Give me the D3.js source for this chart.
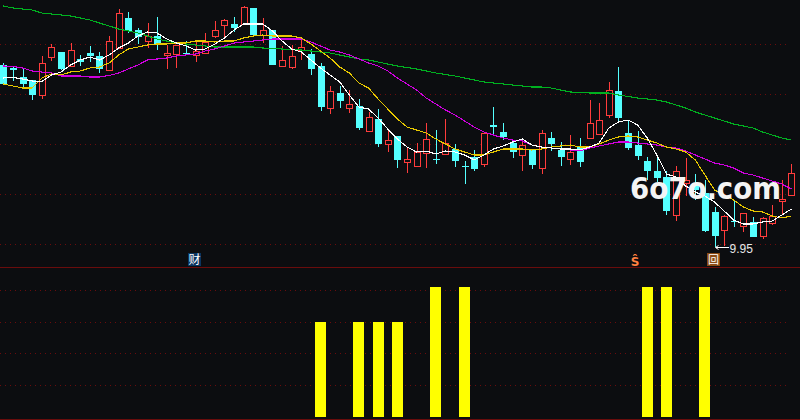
<!DOCTYPE html>
<html>
<head>
<meta charset="utf-8">
<script src="https://cdn.jsdelivr.net/npm/d3@7/dist/d3.min.js"></script>
<style>html,body{margin:0;padding:0;background:#0c0d10;overflow:hidden}svg{display:block}</style>
</head>
<body>
<script>
const open=[13.59,13.53,13.35,13.29,12.98,13.74,13.85,13.57,13.71,13.83,13.77,13.48,13.92,14.53,14.29,14.06,14.17,13.79,13.81,13.83,13.78,13.83,14.17,14.38,14.41,14.41,14.73,14.18,14.29,13.57,13.55,13.89,13.81,13.57,12.73,13.03,12.73,12.77,12.27,12.51,12.01,12.17,11.65,11.57,11.83,11.71,11.81,11.91,11.57,11.75,11.61,12.39,12.25,12.03,11.79,11.89,11.53,12.13,11.89,11.71,11.95,12.13,12.21,12.59,13.07,12.23,11.99,11.67,11.47,11.35,10.59,11.23,11.23,11.03,10.65,10.29,10.47,10.37,10.45,10.17,10.43,10.87,10.99];
const close=[13.21,13.49,13.21,12.99,13.62,13.94,13.51,13.89,13.65,13.77,13.51,14.07,14.62,14.27,14.15,14.17,14.01,13.83,13.99,13.81,13.86,14.05,14.29,14.49,14.33,14.75,14.19,14.28,13.59,13.69,13.77,13.95,13.51,12.75,13.07,12.87,12.81,12.33,12.55,12.01,12.09,11.69,11.71,11.85,12.11,11.69,12.03,11.67,11.55,11.51,12.23,12.35,12.15,11.85,11.99,11.59,12.23,12.01,11.75,11.85,11.65,12.43,12.49,13.09,12.53,11.93,11.77,11.47,11.33,10.67,11.47,11.29,11.09,10.27,10.17,10.57,10.45,10.63,10.15,10.53,10.57,10.91,11.43];
const high=[13.63,13.57,13.51,13.29,13.77,14.01,13.85,14.03,13.79,13.97,13.85,14.17,14.71,14.65,14.33,14.43,14.55,13.99,13.99,14.07,14.05,14.23,14.47,14.51,14.55,14.77,14.73,14.53,14.29,13.97,13.99,14.11,13.91,13.63,13.17,13.17,13.09,12.91,12.65,12.71,12.27,12.17,11.95,12.03,12.43,12.29,12.51,12.01,11.67,11.89,12.23,12.75,12.43,12.07,12.07,11.89,12.29,12.25,12.05,12.19,12.13,12.89,12.83,13.25,13.55,12.49,12.27,11.75,11.77,11.47,11.57,11.73,11.41,11.29,10.75,10.59,10.89,10.63,10.55,10.55,10.79,11.29,11.61];
const low=[13.21,13.27,13.13,12.89,12.91,13.67,13.49,13.57,13.57,13.65,13.43,13.48,13.92,14.23,14.01,13.93,13.89,13.51,13.53,13.79,13.65,13.83,14.13,14.13,14.25,14.41,14.19,14.03,13.59,13.55,13.51,13.69,13.39,12.67,12.61,12.73,12.63,12.29,12.27,11.95,11.85,11.53,11.43,11.57,11.53,11.61,11.81,11.55,11.21,11.47,11.55,12.19,12.09,11.73,11.47,11.51,11.41,11.87,11.57,11.59,11.55,12.13,12.19,12.53,12.45,11.89,11.69,11.29,11.25,10.59,10.47,10.97,10.89,10.25,9.95,9.97,10.35,10.25,10.15,10.11,10.39,10.59,10.99];
const ma5=[13.33,13.34,13.31,13.27,13.26,13.39,13.45,13.59,13.69,13.75,13.69,13.79,13.93,14.03,14.17,14.25,14.23,14.11,14.03,13.97,13.89,13.91,14.01,14.13,14.29,14.41,14.41,14.41,14.27,14.07,13.91,13.85,13.69,13.53,13.39,13.25,12.99,12.75,12.71,12.53,12.31,12.11,11.95,11.85,11.87,11.81,11.87,11.85,11.79,11.69,11.79,11.91,11.97,12.05,12.11,11.99,11.95,11.93,11.91,11.91,11.89,11.95,12.03,12.33,12.45,12.49,12.39,12.13,11.79,11.41,11.35,11.17,11.05,10.97,10.85,10.67,10.49,10.41,10.41,10.45,10.47,10.59,10.71];
const ma10=[13.21,13.17,13.13,13.13,13.33,13.41,13.39,13.45,13.47,13.53,13.55,13.63,13.79,13.91,13.95,13.99,14.01,14.01,14.03,14.03,14.07,14.07,14.05,14.07,14.07,14.13,14.17,14.19,14.17,14.17,14.17,14.13,14.01,13.87,13.73,13.55,13.43,13.23,13.13,12.91,12.71,12.51,12.35,12.29,12.23,12.11,12.01,11.91,11.85,11.79,11.79,11.85,11.91,11.91,11.91,11.89,11.91,11.95,11.97,11.99,11.95,11.95,12.01,12.09,12.15,12.17,12.15,12.09,12.03,11.95,11.91,11.85,11.69,11.39,11.09,10.99,10.89,10.75,10.67,10.65,10.57,10.53,10.57];
const ma20=[13.57,13.56,13.53,13.47,13.45,13.43,13.37,13.37,13.37,13.35,13.35,13.38,13.43,13.51,13.59,13.69,13.71,13.73,13.77,13.79,13.81,13.87,13.91,13.97,14.03,14.05,14.07,14.09,14.11,14.11,14.11,14.11,14.05,13.97,13.89,13.85,13.79,13.71,13.63,13.57,13.47,13.33,13.21,13.09,12.93,12.81,12.69,12.59,12.47,12.35,12.25,12.19,12.13,12.09,12.07,11.99,11.95,11.93,11.91,11.89,11.87,11.93,11.97,12.01,12.05,12.05,12.03,12.01,11.99,11.95,11.93,11.87,11.79,11.71,11.63,11.59,11.53,11.43,11.39,11.33,11.27,11.21,11.11];
const ma60=[14.77,14.73,14.71,14.69,14.63,14.61,14.59,14.57,14.53,14.49,14.43,14.37,14.31,14.27,14.23,14.17,14.11,14.07,14.03,14.01,13.99,13.97,13.95,13.95,13.95,13.95,13.95,13.93,13.92,13.91,13.90,13.89,13.87,13.85,13.83,13.79,13.75,13.71,13.69,13.65,13.61,13.57,13.54,13.51,13.47,13.43,13.40,13.37,13.33,13.29,13.25,13.23,13.21,13.19,13.17,13.15,13.15,13.13,13.09,13.05,13.04,13.03,13.03,13.03,12.99,12.96,12.93,12.91,12.89,12.85,12.79,12.73,12.65,12.59,12.53,12.47,12.41,12.37,12.33,12.25,12.19,12.13,12.09];
const signalIndex=[33,37,39,41,45,48,67,69,73];
const signalValue=[3,3,3,3,4.12,4.12,4.12,4.12,4.12];
const priceGrid=[10,11,12,13,14];
const signalGrid=[1,2,3,4];
const lowLabel="9.95", lowIndex=74;
const watermark="6o7o.com";

const C={bg:"#0c0d10",red:"#ff3c3c",cyan:"#54ffff",white:"#ffffff",yellow:"#e8c800",magenta:"#d000e0",green:"#00b020",grid:"#6a0c0c",bar:"#ffff00"};
const W=800,H=420;
const x=d3.scaleLinear().domain([0,82]).range([3.37,791.39]);
const y=d3.scaleLinear().domain([10,14]).range([244.5,44.5]);
const yS=d3.scaleLinear().domain([0,4]).range([417,290.7]);
const svg=d3.select("body").append("svg").attr("width",W).attr("height",H).attr("viewBox",`0 0 ${W} ${H}`);
svg.append("rect").attr("width",W).attr("height",H).attr("fill",C.bg);

const hline=(yy,dash)=>svg.append("line").attr("x1",0).attr("x2",dash?790:W).attr("y1",yy).attr("y2",yy)
  .attr("stroke",C.grid).attr("stroke-width",1).attr("stroke-dasharray",dash||null).attr("shape-rendering","crispEdges");
priceGrid.forEach(v=>hline(y(v),"1,4"));
signalGrid.forEach(v=>hline(yS(v),"1,4"));
hline(267,null); hline(419,null);

// signal bars
svg.append("g").selectAll("rect").data(signalIndex).join("rect")
  .attr("x",d=>Math.round(x(d)-5.5)).attr("width",11)
  .attr("y",(d,i)=>yS(signalValue[i])).attr("height",(d,i)=>yS(0)-yS(signalValue[i]))
  .attr("fill",C.bar).attr("shape-rendering","crispEdges");

// candles
const idx=d3.range(open.length);
const g=svg.append("g").attr("shape-rendering","crispEdges");
const px=i=>Math.round(x(i));
g.selectAll("line").data(idx).join("line")
  .attr("x1",i=>px(i)+.5).attr("x2",i=>px(i)+.5)
  .attr("y1",i=>y(high[i])).attr("y2",i=>y(low[i]))
  .attr("stroke",i=>close[i]>=open[i]?C.red:C.cyan);
g.selectAll("rect").data(idx).join("rect")
  .attr("x",i=>close[i]>=open[i]?px(i)-2.5:px(i)-3).attr("width",i=>close[i]>=open[i]?6:7)
  .attr("y",i=>y(Math.max(open[i],close[i]))).attr("height",i=>Math.max(1,Math.abs(y(open[i])-y(close[i]))))
  .attr("fill",i=>close[i]>=open[i]?C.bg:C.cyan)
  .attr("stroke",i=>close[i]>=open[i]?C.red:"none");

// moving averages
const line=d3.line().x((d,i)=>x(i)).y(d=>y(d));
[[ma60,C.green],[ma20,C.magenta],[ma10,C.yellow],[ma5,C.white]].forEach(([s,c])=>
  svg.append("path").attr("d",line(s)).attr("fill","none").attr("stroke",c).attr("stroke-width",1.1).attr("shape-rendering","crispEdges"));

// low price annotation
const lx=px(lowIndex)+.5, ly=y(low[lowIndex])+.5;
svg.append("line").attr("x1",lx).attr("x2",lx+13).attr("y1",ly).attr("y2",ly).attr("stroke","#fff").attr("shape-rendering","crispEdges");
svg.append("path").attr("d",d3.line()([[lx+3,ly-2],[lx,ly],[lx+3,ly+2]])).attr("fill","none").attr("stroke","#fff");
svg.append("text").attr("x",lx+14).attr("y",ly+5.5).text(lowLabel)
  .attr("font-family","'Liberation Sans',Arial,sans-serif").attr("font-size",12).attr("fill","#e8e8e8");

// event markers
svg.append("rect").attr("x",188).attr("y",253).attr("width",13).attr("height",13).attr("fill","#0a3560");
svg.append("text").attr("x",194.5).attr("y",264).attr("text-anchor","middle").text("财")
  .attr("font-family","'Noto Sans CJK SC'").attr("font-size",12).attr("fill","#fff");
svg.append("text").attr("x",635).attr("y",266).attr("text-anchor","middle").text("Ŝ")
  .attr("font-family","'DejaVu Sans'").attr("font-size",12).attr("font-weight","bold").attr("fill","#ff8040");
svg.append("rect").attr("x",707).attr("y",253).attr("width",13).attr("height",13).attr("fill","#8a4a14");
svg.append("text").attr("x",713.5).attr("y",263.5).attr("text-anchor","middle").text("回")
  .attr("font-family","'Noto Sans CJK SC'").attr("font-size",11).attr("fill","#fff");

// watermark
svg.append("text").attr("x",630).attr("y",198.5).text(watermark)
  .attr("font-family","'DejaVu Sans'").attr("font-weight","bold").attr("font-size",30)
  .attr("textLength",151).attr("lengthAdjust","spacingAndGlyphs")
  .attr("fill","#f4f4f4");
</script>
</body>
</html>
